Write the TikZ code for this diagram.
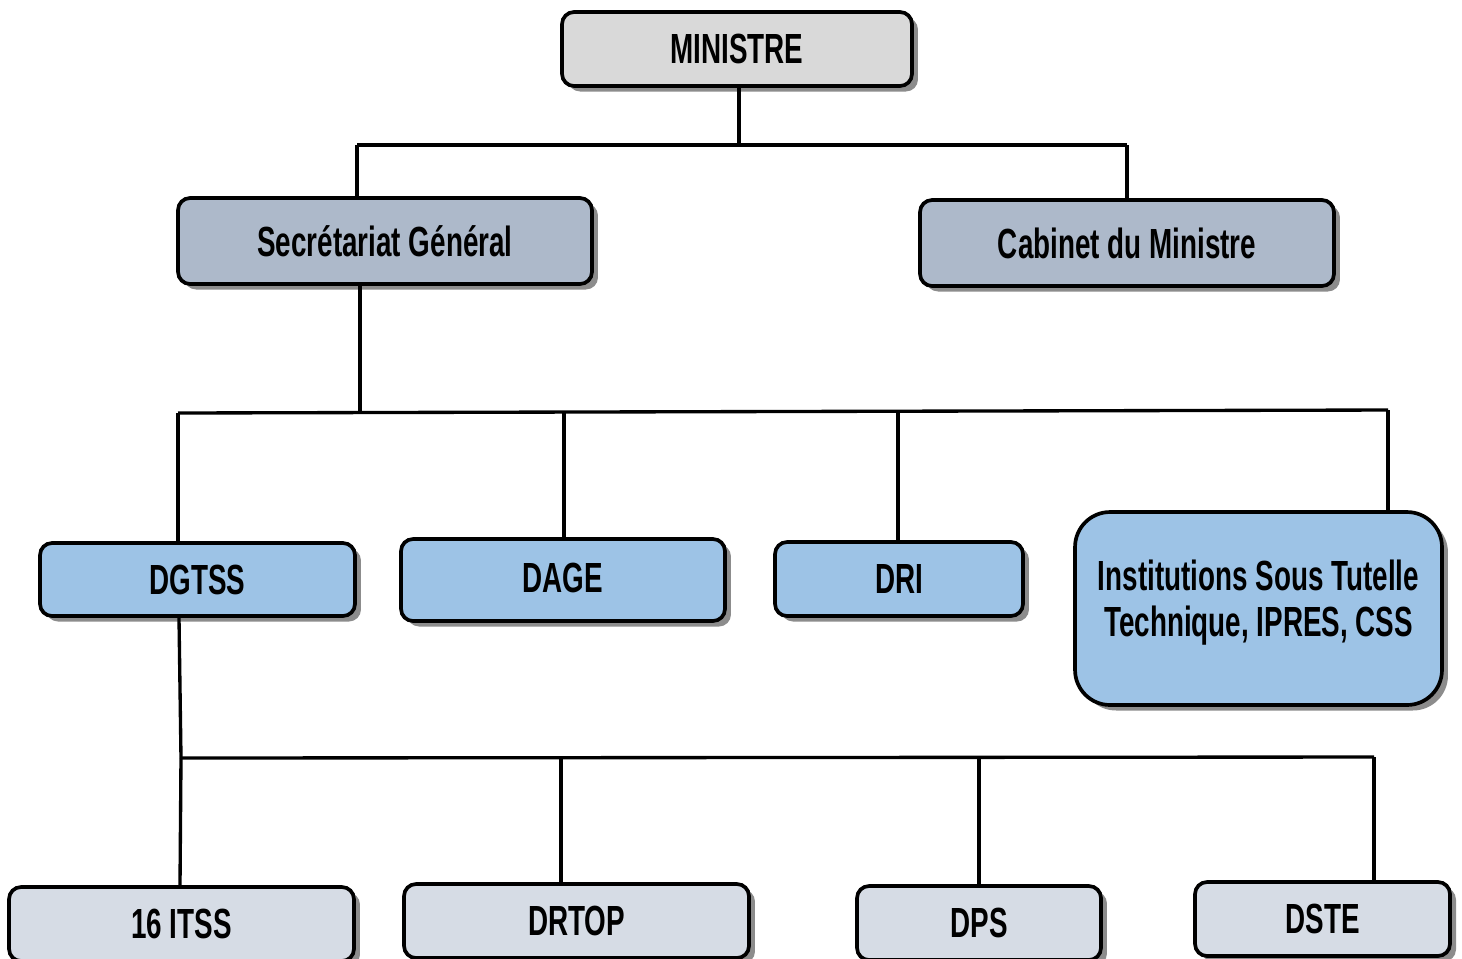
\documentclass[tikz,border=0pt]{standalone}
\usepackage{fontspec}
\setmainfont{Liberation Sans}[FakeStretch=0.66]
\usetikzlibrary{shadows}
\definecolor{cTop}{HTML}{D9D9D9}
\definecolor{cSec}{HTML}{ADB9CA}
\definecolor{cDir}{HTML}{9DC3E6}
\definecolor{cLow}{HTML}{D6DCE5}
\definecolor{cShadow}{HTML}{8C8C8C}
\tikzset{
  orgbox/.style={draw=black, line width=2.1pt, rounded corners=0.24cm, align=center,
    font=\bfseries\fontsize{24}{30}\selectfont, inner sep=0pt,
    drop shadow={shadow xshift=0.12cm, shadow yshift=-0.11cm, fill=cShadow, opacity=1}},
  link/.style={draw=black, line width=1.9pt}
}
\begin{document}
\begin{tikzpicture}[x=0.02cm, y=-0.02cm]
\clip (0,0) rectangle (1462,958);
\fill[white] (0,0) rectangle (1462,958);
% nodes
\node[orgbox, fill=cTop, minimum width=7cm, minimum height=1.48cm] (min) at (737,49) {MINISTRE};
\node[orgbox, fill=cSec, minimum width=8.28cm, minimum height=1.72cm] (sg) at (385,241) {Secrétariat Général};
\node[orgbox, fill=cSec, minimum width=8.28cm, minimum height=1.72cm] (cab) at (1127,243) {Cabinet du Ministre};
\node[orgbox, fill=cDir, minimum width=6.3cm, minimum height=1.46cm] (dgtss) at (197.5,579.5) {DGTSS};
\node[orgbox, fill=cDir, minimum width=6.48cm, minimum height=1.64cm] (dage) at (563,580) {\raisebox{3pt}{DAGE}};
\node[orgbox, fill=cDir, minimum width=4.96cm, minimum height=1.48cm] (dri) at (899,579) {DRI};
\node[orgbox, fill=cDir, minimum width=7.34cm, minimum height=3.86cm, rounded corners=0.7cm] (inst) at (1258.5,608.5) {\raisebox{1.0cm}{\begin{tabular}{@{}c@{}}Institutions Sous Tutelle\\[-4pt] Technique, IPRES, CSS\end{tabular}}};
\node[orgbox, fill=cLow, minimum width=6.9cm, minimum height=1.48cm] (itss) at (181.5,924) {16 ITSS};
\node[orgbox, fill=cLow, minimum width=6.9cm, minimum height=1.48cm] (drtop) at (576.5,921) {DRTOP};
\node[orgbox, fill=cLow, minimum width=4.88cm, minimum height=1.48cm] (dps) at (979,923) {DPS};
\node[orgbox, fill=cLow, minimum width=5.1cm, minimum height=1.48cm] (dste) at (1322.5,919) {DSTE};
% junctions
\coordinate (j1) at (739,145);
\coordinate (j1l) at (357,145);
\coordinate (j1r) at (1127,145);
\coordinate (j2) at (360,411);
\coordinate (j2l) at (178,413);
\coordinate (j2r) at (1388,410);
\coordinate (j2b) at (564,412);
\coordinate (j2c) at (898,411);
\coordinate (j3) at (181,758);
\coordinate (j3r) at (1374,757);
\coordinate (j3b) at (561,758);
\coordinate (j3c) at (979,757);
% connectors
\draw[link] (min.south -| j1) -- (j1);
\draw[link] (j1l) -- (j1r);
\draw[link] (j1l) -- (sg.north -| j1l);
\draw[link] (j1r) -- (cab.north -| j1r);
\draw[link] (sg.south -| j2) -- (j2);
\draw[link] (j2l) -- (j2r);
\draw[link] (j2l) -- (dgtss.north -| j2l);
\draw[link] (j2b) -- (dage.north -| j2b);
\draw[link] (j2c) -- (dri.north -| j2c);
\draw[link] (j2r) -- (inst.north -| j2r);
\draw[link] (dgtss.south -| 179,0) -- (j3);
\draw[link] (j3) -- (j3r);
\draw[link] (j3) -- (itss.north -| 180,0);
\draw[link] (j3b) -- (drtop.north -| j3b);
\draw[link] (j3c) -- (dps.north -| j3c);
\draw[link] (j3r) -- (dste.north -| j3r);
\end{tikzpicture}
\end{document}
